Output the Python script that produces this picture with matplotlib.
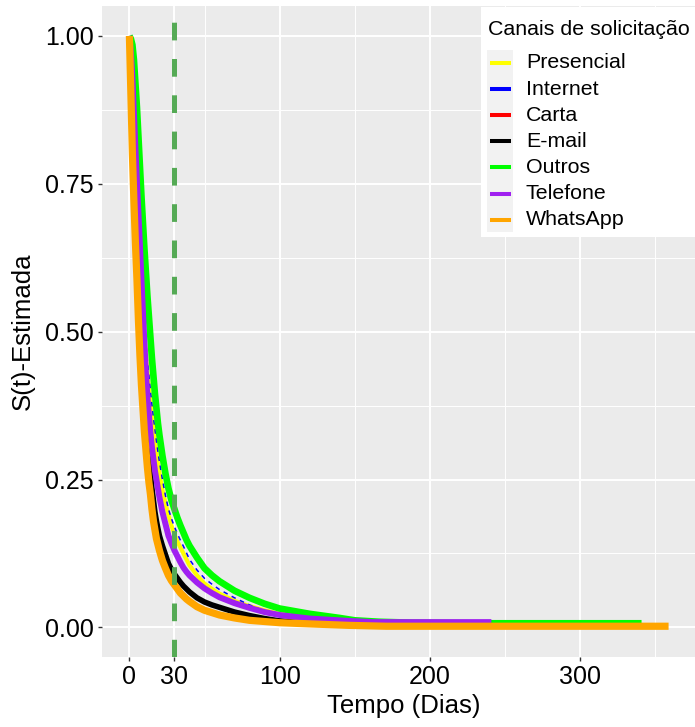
import matplotlib.pyplot as plt
from matplotlib.lines import Line2D
from matplotlib.patches import Rectangle

plt.rcParams['font.family'] = ['Liberation Sans', 'DejaVu Sans']

# -----------------------------
# Dados
# -----------------------------
dias = [0, 1, 2, 3, 4, 5, 6, 7, 8, 9, 10, 11, 12, 13, 14, 15, 16, 17, 18, 19, 20,
        22, 24, 26, 28, 30, 32, 34, 36, 38, 40, 45, 50, 55, 60, 70, 80, 90, 100]

s_presencial = [1.00, 0.95, 0.89, 0.83, 0.77, 0.72, 0.67, 0.62, 0.57, 0.53, 0.49, 0.46, 0.43,
                0.405, 0.38, 0.355, 0.335, 0.315, 0.295, 0.277, 0.26,
                0.232, 0.21, 0.19, 0.172, 0.157, 0.145, 0.135, 0.125, 0.115, 0.105,
                0.088, 0.074, 0.065, 0.057, 0.045, 0.036, 0.029, 0.023]
s_internet = [1.00, 0.96, 0.91, 0.85, 0.79, 0.74, 0.69, 0.64, 0.59, 0.55, 0.51, 0.48, 0.45,
              0.425, 0.40, 0.377, 0.355, 0.335, 0.315, 0.297, 0.28,
              0.25, 0.223, 0.20, 0.184, 0.17, 0.158, 0.147, 0.137, 0.126, 0.115,
              0.097, 0.083, 0.073, 0.064, 0.05, 0.038, 0.028, 0.022]
s_carta = [1.00, 0.91, 0.82, 0.74, 0.67, 0.61, 0.545, 0.485, 0.43, 0.385, 0.345, 0.31, 0.28,
           0.255, 0.23, 0.21, 0.19, 0.175, 0.16, 0.148, 0.138,
           0.12, 0.106, 0.094, 0.085, 0.078, 0.07, 0.064, 0.058, 0.053, 0.048,
           0.039, 0.032, 0.028, 0.024, 0.018, 0.014, 0.011, 0.009]
s_email = [1.00, 0.92, 0.84, 0.77, 0.70, 0.64, 0.58, 0.52, 0.47, 0.42, 0.38, 0.35, 0.32,
           0.29, 0.26, 0.235, 0.215, 0.195, 0.18, 0.167, 0.155,
           0.138, 0.123, 0.108, 0.098, 0.09, 0.083, 0.076, 0.07, 0.065, 0.06,
           0.05, 0.043, 0.038, 0.034, 0.026, 0.02, 0.015, 0.011]
s_outros = [1.00, 0.995, 0.985, 0.96, 0.92, 0.88, 0.83, 0.78, 0.73, 0.685, 0.64, 0.60, 0.56,
            0.525, 0.49, 0.455, 0.425, 0.395, 0.37, 0.345, 0.325,
            0.29, 0.26, 0.235, 0.215, 0.20, 0.185, 0.172, 0.16, 0.148, 0.138,
            0.118, 0.10, 0.088, 0.078, 0.062, 0.05, 0.04, 0.032]
s_telefone = [1.00, 0.97, 0.93, 0.87, 0.81, 0.755, 0.70, 0.645, 0.59, 0.535, 0.48, 0.43, 0.39,
              0.36, 0.33, 0.305, 0.285, 0.265, 0.25, 0.235, 0.22,
              0.195, 0.175, 0.155, 0.142, 0.13, 0.12, 0.11, 0.101, 0.094, 0.088,
              0.076, 0.066, 0.058, 0.051, 0.041, 0.033, 0.026, 0.021]
s_whatsapp = [1.00, 0.90, 0.80, 0.72, 0.65, 0.59, 0.52, 0.46, 0.41, 0.37, 0.33, 0.30, 0.27,
              0.245, 0.225, 0.20, 0.18, 0.165, 0.15, 0.14, 0.13,
              0.113, 0.10, 0.088, 0.079, 0.072, 0.065, 0.058, 0.053, 0.048, 0.044,
              0.035, 0.029, 0.025, 0.021, 0.016, 0.012, 0.010, 0.008]

# caudas (apos 100 dias)
t_fim_presencial = [120, 150, 200, 250]
s_fim_presencial = [0.016, 0.011, 0.008, 0.006]
t_fim_internet = []
s_fim_internet = []
t_fim_carta = []
s_fim_carta = []
t_fim_email = [120, 150]
s_fim_email = [0.007, 0.004]
t_fim_outros = [120, 140, 150, 166, 188, 228, 341]
s_fim_outros = [0.023, 0.016, 0.012, 0.0096, 0.008, 0.007, 0.007]
t_fim_telefone = [120, 146, 162, 241]
s_fim_telefone = [0.015, 0.011, 0.009, 0.009]
t_fim_whatsapp = [120, 146, 171, 359]
s_fim_whatsapp = [0.006, 0.0035, 0.002, 0.002]

canais = ['Presencial', 'Internet', 'Carta', 'E-mail', 'Outros', 'Telefone', 'WhatsApp']
cores = ['#FFFF00', '#0000FF', '#FF0000', '#000000', '#00FF00', '#A020F0', '#FFA500']
larguras = [3.0, 1.1, 1.1, 4.0, 4.8, 4.3, 5.2]
tracos = ['-', (0, (3, 3)), '-', '-', '-', '-', '-']

curvas = [
    (dias + t_fim_presencial, s_presencial + s_fim_presencial),
    (dias + t_fim_internet, s_internet + s_fim_internet),
    (dias + t_fim_carta, s_carta + s_fim_carta),
    (dias + t_fim_email, s_email + s_fim_email),
    (dias + t_fim_outros, s_outros + s_fim_outros),
    (dias + t_fim_telefone, s_telefone + s_fim_telefone),
    (dias + t_fim_whatsapp, s_whatsapp + s_fim_whatsapp),
]

x_ticks = [0, 30, 100, 200, 300]
y_ticks = [0.0, 0.25, 0.5, 0.75, 1.0]
y_labels = ['0.00', '0.25', '0.50', '0.75', '1.00']

# -----------------------------
# Figura
# -----------------------------
W, H = 695, 727
fig = plt.figure(figsize=(W / 100, H / 100), dpi=100)


def fx(x):
    return x / W


def fy(y):
    return 1 - y / H


ax = fig.add_axes([fx(102), fy(657), (705 - 102) / W, (657 - 6.4) / H])
ax.set_facecolor('#EBEBEB')
for sp in ax.spines.values():
    sp.set_visible(False)

ax.set_xlim(-18.25, 383.25)
ax.set_ylim(-0.05, 1.05)

ax.set_xticks(x_ticks)
ax.set_xticks([50, 150, 250, 350], minor=True)
ax.set_yticks(y_ticks)
ax.set_yticklabels(y_labels)
ax.set_yticks([0.125, 0.375, 0.625, 0.875], minor=True)
ax.grid(which='major', color='white', lw=1.4)
ax.grid(which='minor', color='white', lw=0.7)
ax.set_axisbelow(True)
ax.tick_params(which='major', length=3, width=1.0, color='#333333',
               labelsize=18, labelcolor='black', pad=3)
ax.tick_params(which='minor', length=0)

for nome, cor, (t, s), lw, ls in zip(canais, cores, curvas, larguras, tracos):
    ax.plot(t, s, color=cor, lw=lw, ls=ls,
            solid_capstyle='butt', solid_joinstyle='round', label=nome)

ax.axvline(30, color='#55AA55', lw=3.6, dashes=(3.54, 3.72))

ax.set_xlabel('Tempo (Dias)', fontsize=18.5)
ax.set_ylabel('S(t)-Estimada', fontsize=18.5)
ax.xaxis.set_label_coords(0.5, (657 - 694) / 650.6)
ax.yaxis.set_label_coords((35 - 102) / 603, 0.5)

# -----------------------------
# Legenda (estilo ggplot)
# -----------------------------
fig.add_artist(Rectangle((fx(481), fy(237)), (700 - 481) / W, (237 - 7) / H,
                         transform=fig.transFigure, fc='white', ec='none', zorder=5))
fig.add_artist(Rectangle((fx(487), fy(232)), (513 - 487) / W, (232 - 50) / H,
                         transform=fig.transFigure, fc='#F2F2F2', ec='none', zorder=6))
fig.text(fx(488), fy(29.5), 'Canais de solicitação', fontsize=15.4,
         va='center', ha='left', zorder=7)
for i, (nome, cor) in enumerate(zip(canais, cores)):
    yc = 63 + 26.1 * i
    fig.add_artist(Line2D([fx(490), fx(511)], [fy(yc), fy(yc)], transform=fig.transFigure,
                          color=cor, lw=2.9, solid_capstyle='butt', zorder=7))
    fig.text(fx(526), fy(yc), nome, fontsize=15.4, va='center', ha='left', zorder=7)

fig.savefig('out.png', dpi=100)
